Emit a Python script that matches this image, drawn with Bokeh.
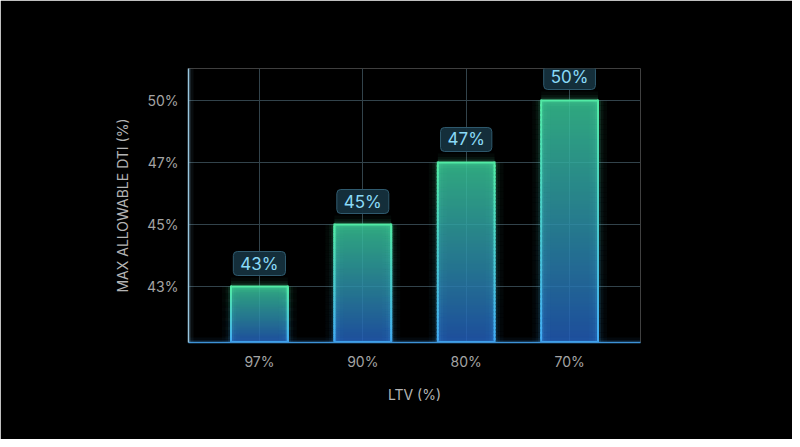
import numpy as np
from bokeh.plotting import figure
from bokeh.models import FactorRange, Range1d, FixedTicker, Span, ColumnDataSource
from bokeh.transform import dodge
from bokeh.core.properties import value
from bokeh.embed import file_html
from bokeh.resources import INLINE

# ---- data ----
ltv = ["97%", "90%", "80%", "70%"]
dti = [43, 45, 47, 50]
dti_ticks = [43, 45, 47, 50]
bar_labels = ["43%", "45%", "47%", "50%"]
x_title = "LTV (%)"
y_title = "MAX ALLOWABLE DTI (%)"

# ordinal position of each value on the y axis
levels = [dti_ticks.index(v) for v in dti]
base = -0.903
FONT = "Inter"

p = figure(width=792, height=439,
           x_range=FactorRange(*ltv, range_padding=0.186, range_padding_units="absolute"),
           y_range=Range1d(base, 3.516),
           output_backend="svg", toolbar_location=None,
           background_fill_color="#000000", border_fill_color="#000000",
           outline_line_color=None,
           min_border_left=188, min_border_right=152,
           min_border_top=68, min_border_bottom=97)

def mix(c0, c1, t):
    return tuple(int(round(a + (b - a) * t)) for a, b in zip(c0, c1))

def hexc(c):
    return "#%02x%02x%02x" % c

fill_bot, fill_top = (34, 92, 185), (56, 200, 150)
edge_bot, edge_top = (66, 170, 245), (82, 235, 165)
half = 0.275

# gradient fill: one vertical gradient image per bar
R = 160
imgs = []
for lv in levels:
    img = np.zeros((R, 1), dtype=np.uint32)
    v = img.view(dtype=np.uint8).reshape((R, 1, 4))
    for r in range(R):
        c = mix(fill_bot, fill_top, (r + 0.5) / R)
        v[r, 0, :3] = c
        v[r, 0, 3] = 215
    imgs.append(img)
p.image_rgba(image="img", x=dodge("x", -half, range=p.x_range), y="y", dw=2 * half, dh="dh",
             source=ColumnDataSource(dict(img=imgs, x=ltv, y=[base] * len(ltv),
                                          dh=[lv - base for lv in levels])))

# edges as short slices so their colour follows the gradient
N = 50
xs, y0s, y1s, edges = [], [], [], []
for f, lv in zip(ltv, levels):
    h = lv - base
    for k in range(N):
        t0, t1 = k / N, (k + 1) / N
        xs.append(f)
        y0s.append(base + h * t0)
        y1s.append(base + h * t1)
        edges.append(hexc(mix(edge_bot, edge_top, (t0 + t1) / 2)))
s = ColumnDataSource(dict(x=xs, y0=y0s, y1=y1s, edge=edges))
tops = ColumnDataSource(dict(x=ltv, y=levels))

# glow
for lw, al in [(18, 0.035), (11, 0.06), (6, 0.12)]:
    for off in (-half, half):
        p.segment(x0=dodge("x", off, range=p.x_range), x1=dodge("x", off, range=p.x_range),
                  y0="y0", y1="y1", source=s, line_color="edge", line_width=lw, line_alpha=al)
    p.segment(x0=dodge("x", -half, range=p.x_range), x1=dodge("x", half, range=p.x_range),
              y0="y", y1="y", source=tops, line_color=hexc(edge_top), line_width=lw, line_alpha=al)

# crisp edges
for off in (-half, half):
    p.segment(x0=dodge("x", off, range=p.x_range), x1=dodge("x", off, range=p.x_range),
              y0="y0", y1="y1", source=s, line_color="edge", line_width=2, line_cap="square")
p.segment(x0=dodge("x", -half, range=p.x_range), x1=dodge("x", half, range=p.x_range),
          y0="y", y1="y", source=tops, line_color=hexc(edge_top), line_width=2)
p.segment(x0=dodge("x", -half, range=p.x_range), x1=dodge("x", half, range=p.x_range),
          y0=base, y1=base, source=tops, line_color=hexc(edge_bot), line_width=3)

# value labels
p.text(x=ltv, y=levels, text=bar_labels, text_align="center", text_baseline="bottom",
       y_offset=-11, text_font=value(FONT), text_font_size="17px", text_color="#8adaf7",
       background_fill_color="#15303d", background_fill_alpha=0.95,
       border_line_color="#2f5a6e", border_line_width=1, border_radius=4, padding=(7, 2))

# axis glow
for lw, al in [(10, 0.06), (5, 0.12)]:
    p.add_layout(Span(location=-0.186, dimension="height", line_color="#8fc4e6",
                      line_width=lw, line_alpha=al))
    p.add_layout(Span(location=base, dimension="width", line_color="#3a8fd8",
                      line_width=lw, line_alpha=al))

# axes
for ax in (p.xaxis, p.yaxis):
    ax.major_tick_line_color = None
    ax.minor_tick_line_color = None
    ax.major_tick_out = 0
    ax.major_tick_in = 0
    ax.minor_tick_out = 0
    ax.minor_tick_in = 0
    ax.major_label_text_font = FONT
    ax.major_label_text_font_size = "14px"
    ax.major_label_text_color = "#a4a4a4"
    ax.axis_label_text_font = FONT
    ax.axis_label_text_font_size = "14px"
    ax.axis_label_text_color = "#b4b4b4"
    ax.axis_label_text_font_style = "normal"
    ax.major_label_standoff = 10
    ax.axis_line_width = 1.5

p.xaxis.axis_label = x_title
p.yaxis.axis_label = y_title
p.xaxis.axis_line_color = "#3f94d6"
p.yaxis.axis_line_color = "#9cc6de"
p.xaxis.axis_label_standoff = 13
p.yaxis.axis_label_standoff = 13
p.yaxis.ticker = FixedTicker(ticks=list(range(len(dti_ticks))))
p.yaxis.major_label_overrides = {i: f"{t}%" for i, t in enumerate(dti_ticks)}

p.xgrid.grid_line_color = "#32434b"
p.ygrid.grid_line_color = "#32434b"

open("out.html", "w").write(file_html(p, INLINE))
